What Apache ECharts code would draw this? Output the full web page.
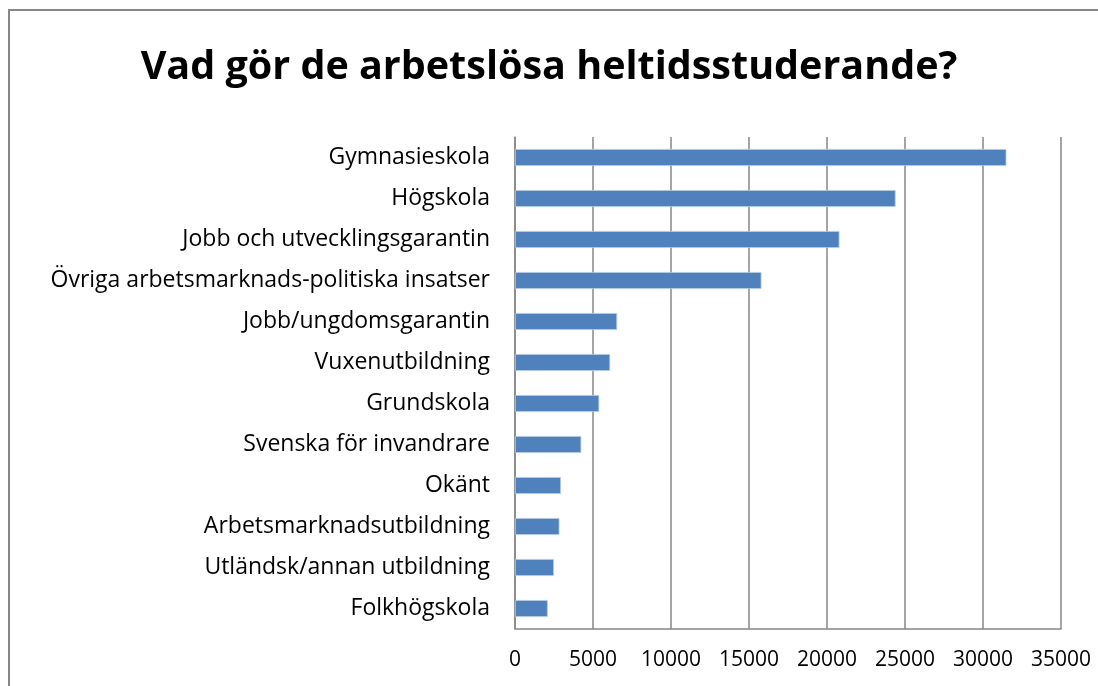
<!DOCTYPE html>
<html>
<head>
<meta charset="utf-8">
<script src="https://cdn.jsdelivr.net/npm/echarts@6/dist/echarts.min.js"></script>
<style>
  html, body { margin: 0; padding: 0; background: #fff; }
  #chart { width: 1098px; height: 686px; }
</style>
</head>
<body>
<div id="chart"></div>
<script>
const categories = [
  'Gymnasieskola',
  'Högskola',
  'Jobb och utvecklingsgarantin',
  'Övriga arbetsmarknads-politiska insatser',
  'Jobb/ungdomsgarantin',
  'Vuxenutbildning',
  'Grundskola',
  'Svenska för invandrare',
  'Okänt',
  'Arbetsmarknadsutbildning',
  'Utländsk/annan utbildning',
  'Folkhögskola'
]
const values = [31500, 24400, 20800, 15800, 6550, 6100, 5400, 4250, 2950, 2850, 2500, 2100]

const font = '"Open Sans", "Noto Sans", sans-serif'
const gray = '#878787'

const chart = echarts.init(document.getElementById('chart'))
chart.setOption({
  animation: false,
  title: {
    text: 'Vad gör de arbetslösa heltidsstuderande?',
    left: 'center',
    top: 43,
    textStyle: { fontFamily: font, fontWeight: 'bold', fontSize: 39.5, color: '#000' },
  },
  // ram runt diagrammet
  graphic: [{
    type: 'rect',
    shape: { x: 9, y: 10, width: 1200, height: 800 },
    style: { fill: 'none', stroke: gray, lineWidth: 2 },
    silent: true,
  }],
  grid: { left: 515, right: 37, top: 137, bottom: 57 },
  xAxis: {
    type: 'value',
    min: 0,
    max: 35000,
    interval: 5000,
    axisLine: { show: true, lineStyle: { color: gray, width: 1.5 } },
    axisTick: { show: false },
    axisLabel: { fontFamily: font, fontSize: 21, color: '#000', margin: 21, formatter: (v) => String(v) },
    splitLine: { show: true, lineStyle: { color: gray, width: 1.5 } },
  },
  yAxis: {
    type: 'category',
    data: categories,
    inverse: true,
    axisLine: { show: true, lineStyle: { color: gray, width: 1.5 } },
    axisTick: { show: false },
    axisLabel: { fontFamily: font, fontSize: 23, color: '#000', margin: 25 },
  },
  series: [{
    type: 'bar',
    data: values,
    barWidth: 17,
    itemStyle: { color: '#4F81BD', borderColor: '#B9CDE5', borderWidth: 0.8 },
  }],
})
</script>
</body>
</html>
